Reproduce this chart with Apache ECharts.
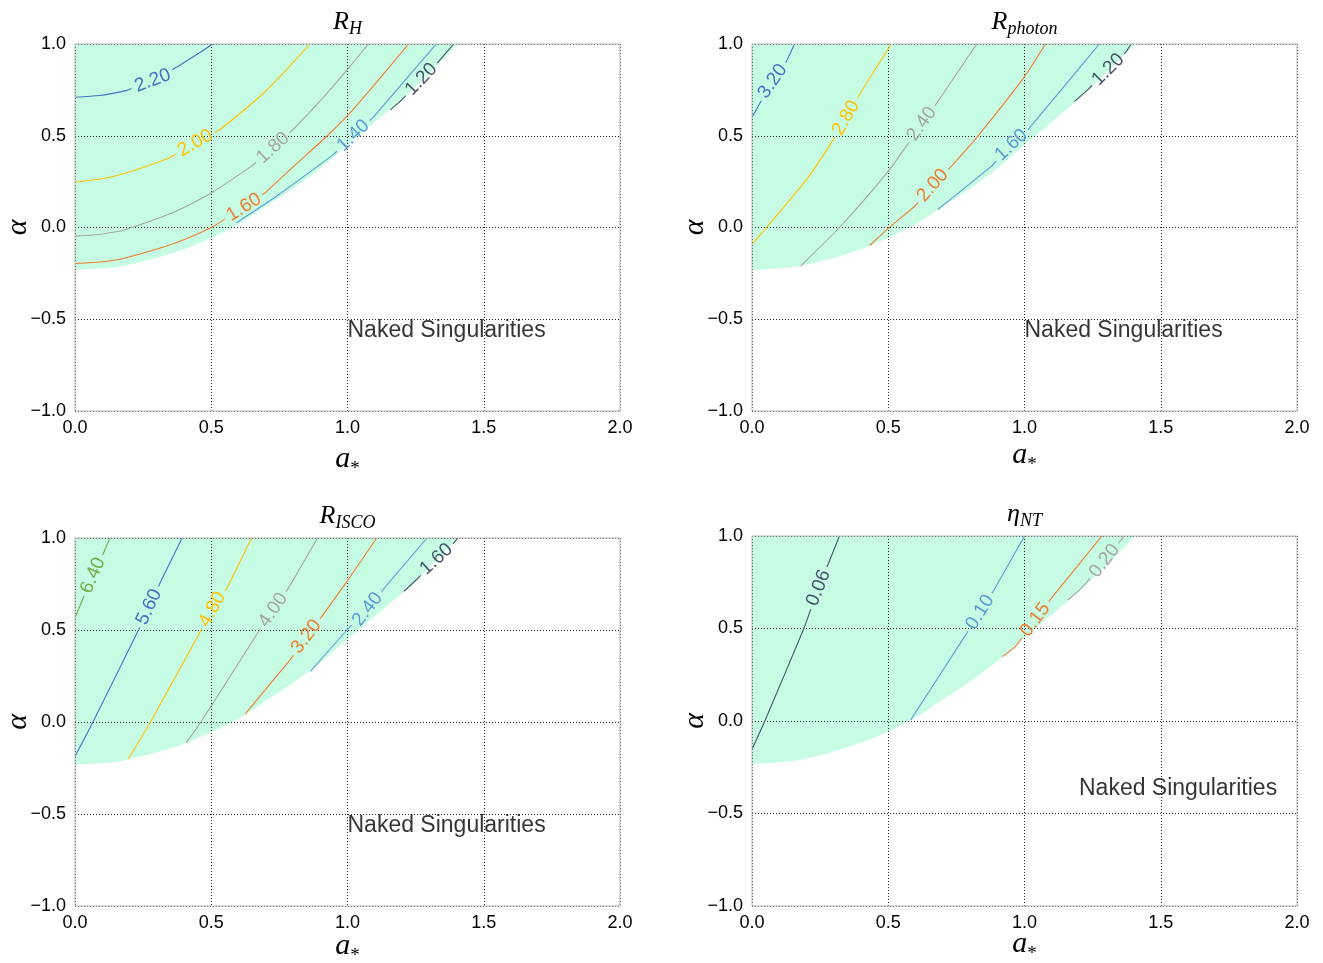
<!DOCTYPE html>
<html>
<head>
<meta charset="utf-8">
<script src="https://cdn.jsdelivr.net/npm/echarts@6/dist/echarts.min.js"></script>
<style>html,body{margin:0;padding:0;background:#fff}#c{width:1323px;height:963px}</style>
</head>
<body>
<div id="c"></div>
<script>
// ---------------- DATA ----------------
const X_TICK_LABELS = ['0.0', '0.5', '1.0', '1.5', '2.0'];
const Y_TICK_LABELS = ['\u22121.0', '\u22120.5', '0.0', '0.5', '1.0'];

const PANEL_TITLES = [['R', 'H'], ['R', 'photon'], ['R', 'ISCO'], ['\u03b7', 'NT']];
const X_NAME = ['a', '*'];
const Y_NAME = '\u03b1';
const REGION_TEXT = 'Naked Singularities';
const REGION_TEXT_AT = [[1.0, -0.6], [1.0, -0.6], [1.0, -0.6], [1.2, -0.4]];

// boundary of the black-hole region (a*, alpha)
const BOUNDARY_A =     [0, 0.1, 0.178, 0.3, 0.408, 0.5, 0.6, 0.682, 0.8, 0.9, 1.0, 1.1, 1.2, 1.3, 1.405];
const BOUNDARY_ALPHA = [-0.232, -0.224, -0.21, -0.165, -0.114, -0.056, 0.018, 0.098, 0.213, 0.323, 0.45, 0.575, 0.70, 0.84, 1.0];

// R_H contours
const RH_LEVELS = ['2.20', '2.00', '1.80', '1.60', '1.40', '1.20'];
const RH_LINES = [
  [[0, 0.71], [0.089, 0.719], [0.187, 0.746], [0.285, 0.80], [0.377, 0.877], [0.444, 0.94], [0.506, 1.0]],
  [[0, 0.248], [0.1, 0.266], [0.187, 0.297], [0.346, 0.379], [0.441, 0.46], [0.536, 0.538], [0.678, 0.714], [0.77, 0.85], [0.862, 1.0]],
  [[0, -0.047], [0.1, -0.035], [0.187, -0.011], [0.371, 0.089], [0.5, 0.188], [0.647, 0.333], [0.72, 0.424], [0.80, 0.533], [0.9, 0.69], [1.0, 0.862], [1.077, 1.0]],
  [[0, -0.197], [0.1, -0.187], [0.187, -0.165], [0.371, -0.083], [0.5, 0.0], [0.62, 0.11], [0.702, 0.194], [0.8, 0.33], [0.923, 0.496], [1.0, 0.609], [1.1, 0.78], [1.224, 1.0]],
  [[0.592, 0.025], [0.739, 0.17], [0.948, 0.397], [1.021, 0.50], [1.095, 0.601], [1.21, 0.80], [1.326, 1.0]],
  [[1.157, 0.641], [1.193, 0.687], [1.269, 0.804], [1.334, 0.904], [1.39, 1.0]]
];
const RH_LABEL_AT = [[0.285, 0.80], [0.441, 0.46], [0.723, 0.44], [0.62, 0.11], [1.021, 0.50], [1.269, 0.81]];

// R_photon contours
const RPH_LEVELS = ['3.20', '2.80', '2.40', '2.00', '1.60', '1.20'];
const RPH_LINES = [
  [[0, 0.601], [0.022, 0.659], [0.073, 0.79], [0.126, 0.904], [0.156, 1.0]],
  [[0, -0.092], [0.053, 0], [0.2, 0.261], [0.291, 0.46], [0.346, 0.60], [0.401, 0.741], [0.511, 1.0]],
  [[0.178, -0.21], [0.321, 0], [0.5, 0.306], [0.566, 0.442], [0.621, 0.56], [0.682, 0.687], [0.825, 1.0]],
  [[0.432, -0.098], [0.5, -0.005], [0.597, 0.116], [0.664, 0.23], [0.737, 0.342], [0.829, 0.498], [1.0, 0.822], [1.077, 1.0]],
  [[0.682, 0.098], [0.878, 0.333], [0.945, 0.44], [1.018, 0.542], [1.147, 0.772], [1.275, 1.0]],
  [[1.183, 0.687], [1.232, 0.75], [1.306, 0.859], [1.373, 0.958], [1.391, 1.0]]
];
const RPH_LABEL_AT = [[0.073, 0.80], [0.342, 0.60], [0.623, 0.565], [0.66, 0.234], [0.951, 0.451], [1.302, 0.868]];

// R_ISCO contours
const RISCO_LEVELS = ['6.40', '5.60', '4.80', '4.00', '3.20', '2.40', '1.60'];
const RISCO_LINES = [
  [[0, 0.565], [0.025, 0.656], [0.066, 0.797], [0.102, 0.909], [0.128, 1.0]],
  [[0, -0.187], [0.066, 0], [0.233, 0.5], [0.272, 0.625], [0.318, 0.774], [0.393, 1.0]],
  [[0.195, -0.201], [0.277, 0], [0.457, 0.484], [0.507, 0.62], [0.558, 0.728], [0.648, 1.0]],
  [[0.408, -0.114], [0.462, 0], [0.682, 0.511], [0.728, 0.61], [0.782, 0.725], [0.89, 1.0]],
  [[0.624, 0.043], [0.79, 0.339], [0.847, 0.46], [0.906, 0.574], [0.998, 0.764], [1.107, 1.0]],
  [[0.864, 0.275], [0.998, 0.5], [1.072, 0.61], [1.13, 0.719], [1.292, 1.0]],
  [[1.207, 0.71], [1.253, 0.773], [1.323, 0.88], [1.385, 0.964], [1.405, 1.0]]
];
const RISCO_LABEL_AT = [[0.066, 0.797], [0.272, 0.625], [0.507, 0.61], [0.728, 0.607], [0.847, 0.466], [1.076, 0.61], [1.323, 0.89]];

// eta_NT contours
const ETA_LEVELS = ['0.06', '0.10', '0.15', '0.20'];
const ETA_LINES = [
  [[0, -0.153], [0.047, 0], [0.19, 0.499], [0.239, 0.70], [0.283, 0.861], [0.321, 1.0]],
  [[0.582, 0.005], [0.78, 0.456], [0.834, 0.58], [0.888, 0.708], [1.0, 1.0]],
  [[0.919, 0.348], [0.966, 0.402], [1.036, 0.54], [1.098, 0.663], [1.284, 1.0]],
  [[1.16, 0.654], [1.214, 0.726], [1.292, 0.862], [1.354, 0.978], [1.366, 1.0]]
];
const ETA_LABEL_AT = [[0.239, 0.722], [0.834, 0.591], [1.036, 0.551], [1.292, 0.867]];

// ---------------- STYLE ----------------
const C_BLUE = '#4472c4', C_GOLD = '#ffc000', C_GRAY = '#a5a5a5', C_ORANGE = '#ed7d31',
      C_LBLUE = '#5b9bd5', C_SLATE = '#44546a', C_GREEN = '#70ad47';
const PANELS = [
  { lines: RH_LINES, levels: RH_LEVELS, labelAt: RH_LABEL_AT, colors: [C_BLUE, C_GOLD, C_GRAY, C_ORANGE, C_LBLUE, C_SLATE] },
  { lines: RPH_LINES, levels: RPH_LEVELS, labelAt: RPH_LABEL_AT, colors: [C_BLUE, C_GOLD, C_GRAY, C_ORANGE, C_LBLUE, C_SLATE] },
  { lines: RISCO_LINES, levels: RISCO_LEVELS, labelAt: RISCO_LABEL_AT, colors: [C_GREEN, C_BLUE, C_GOLD, C_GRAY, C_ORANGE, C_LBLUE, C_SLATE] },
  { lines: ETA_LINES, levels: ETA_LEVELS, labelAt: ETA_LABEL_AT, colors: [C_SLATE, C_LBLUE, C_ORANGE, C_GRAY] }
];
const GRIDS = [
  { left: 75, top: 44, width: 545, height: 367, xNameGap: 28 },
  { left: 752, top: 44, width: 545, height: 367, xNameGap: 24 },
  { left: 75, top: 538, width: 545, height: 368, xNameGap: 20 },
  { left: 752, top: 536, width: 545, height: 370, xNameGap: 18 }
];
const FILL = '#c7fce4';
const SANS = '"Liberation Sans", Arial, Helvetica, sans-serif';
const SERIF = '"Liberation Serif", "Times New Roman", serif';
const LABEL_FONT_SIZE = 19;
const LABEL_FONT = LABEL_FONT_SIZE + 'px ' + SANS;

const measureCtx = document.createElement('canvas').getContext('2d');
function textWidth(t, font) { measureCtx.font = font; return measureCtx.measureText(t).width; }

function cutPolyline(pts, C, r) {
  const pieces = []; let cur = [];
  for (let k = 0; k < pts.length - 1; k++) {
    const P = pts[k], Q = pts[k + 1];
    const dx = Q[0] - P[0], dy = Q[1] - P[1];
    const fx = P[0] - C[0], fy = P[1] - C[1];
    const a = dx * dx + dy * dy, b = 2 * (fx * dx + fy * dy), c = fx * fx + fy * fy - r * r;
    const disc = b * b - 4 * a * c;
    let lo = 1, hi = 0;
    if (a > 0 && disc > 0) {
      const s = Math.sqrt(disc);
      lo = Math.max(0, (-b - s) / (2 * a)); hi = Math.min(1, (-b + s) / (2 * a));
    }
    const at = t => [P[0] + t * dx, P[1] + t * dy];
    if (lo < hi) {
      if (lo > 0) { if (!cur.length) cur.push(P); cur.push(at(lo)); }
      if (cur.length > 1) pieces.push(cur);
      cur = [];
      if (hi < 1) { cur.push(at(hi)); cur.push(Q); }
    } else {
      if (!cur.length) cur.push(P);
      cur.push(Q);
    }
  }
  if (cur.length > 1) pieces.push(cur);
  return pieces;
}

function contourRenderer(panel) {
  return function (params, api) {
    const i = params.dataIndex;
    const pts = panel.lines[i].map(p => api.coord(p));
    const L = api.coord(panel.labelAt[i]);
    let best = null;
    for (let k = 0; k < pts.length - 1; k++) {
      const P = pts[k], Q = pts[k + 1];
      const dx = Q[0] - P[0], dy = Q[1] - P[1];
      const len2 = dx * dx + dy * dy;
      let t = len2 > 0 ? ((L[0] - P[0]) * dx + (L[1] - P[1]) * dy) / len2 : 0;
      t = Math.max(0, Math.min(1, t));
      const X = [P[0] + t * dx, P[1] + t * dy];
      const d = Math.hypot(X[0] - L[0], X[1] - L[1]);
      if (!best || d < best.d) best = { d, X, dx, dy };
    }
    let ang = Math.atan2(best.dy, best.dx);
    if (ang > Math.PI / 2) ang -= Math.PI;
    if (ang < -Math.PI / 2) ang += Math.PI;
    const C = best.X;
    const r = textWidth(panel.levels[i], LABEL_FONT) / 2 + 4;
    const color = panel.colors[i];
    const children = cutPolyline(pts, C, r).map(p => ({
      type: 'polyline', shape: { points: p, smooth: 0.2 },
      style: { stroke: color, lineWidth: 1.1, fill: null }
    }));
    children.push({
      type: 'text', x: C[0], y: C[1], rotation: -ang,
      style: { text: panel.levels[i], fill: color, font: LABEL_FONT, align: 'center', verticalAlign: 'middle' }
    });
    return { type: 'group', children };
  };
}

const grid = [], xAxis = [], yAxis = [], series = [], graphic = [];
GRIDS.forEach((g, gi) => {
  grid.push({ show: true, borderColor: '#b9b9b9', borderWidth: 1, backgroundColor: 'transparent', z: 6,
    left: g.left, top: g.top, width: g.width, height: g.height });
  xAxis.push({
    gridIndex: gi, type: 'value', min: 0, max: 2, interval: 0.5, z: 3,
    axisLine: { show: false }, axisTick: { show: false },
    splitLine: { show: true, lineStyle: { color: '#222', width: 1, type: [1, 2] } },
    axisLabel: { formatter: v => X_TICK_LABELS[Math.round(v / 0.5)], fontSize: 18, color: '#000', fontFamily: SANS, margin: 8 }
  });
  yAxis.push({
    gridIndex: gi, type: 'value', min: -1, max: 1, interval: 0.5, z: 3,
    axisLine: { show: false }, axisTick: { show: false },
    splitLine: { show: true, lineStyle: { color: '#222', width: 1, type: [1, 2] } },
    axisLabel: { formatter: v => Y_TICK_LABELS[Math.round((v + 1) / 0.5)], fontSize: 18, color: '#000', fontFamily: SANS, margin: 9 }
  });
  // black-hole region fill
  series.push({
    type: 'line', xAxisIndex: gi, yAxisIndex: gi, z: 1, silent: true,
    data: BOUNDARY_A.map((a, k) => [a, BOUNDARY_ALPHA[k]]),
    symbol: 'none', smooth: 0.25,
    lineStyle: { width: 0 },
    areaStyle: { color: FILL, opacity: 1, origin: 'end' }
  });
  const panel = PANELS[gi];
  series.push({
    type: 'custom', xAxisIndex: gi, yAxisIndex: gi, coordinateSystem: 'cartesian2d',
    z: 4, silent: true, clip: true,
    data: panel.labelAt,
    renderItem: contourRenderer(panel)
  });
  series.push({
    type: 'scatter', xAxisIndex: gi, yAxisIndex: gi, z: 5, silent: true,
    symbolSize: 0, data: [REGION_TEXT_AT[gi]],
    label: { show: true, formatter: REGION_TEXT, position: [0, 0], align: 'left', verticalAlign: 'bottom',
      offset: [0, 5], fontSize: 23, color: '#000', fontFamily: SANS }
  });
  const cx = g.left + g.width / 2;
  const t = PANEL_TITLES[gi];
  graphic.push({
    type: 'text', x: cx, y: g.top - 38, z: 10,
    style: {
      text: '{m|' + t[0] + '}{s|' + t[1] + '}', align: 'center', verticalAlign: 'top',
      rich: {
        m: { fontFamily: SERIF, fontStyle: 'italic', fontSize: 26, lineHeight: 32, fill: '#000' },
        s: { fontFamily: SERIF, fontStyle: 'italic', fontSize: 18, lineHeight: 18, verticalAlign: 'bottom', fill: '#000' }
      }
    }
  });
  graphic.push({
    type: 'text', x: cx, y: g.top + g.height + g.xNameGap, z: 10,
    style: {
      text: '{m|' + X_NAME[0] + '}{s|' + X_NAME[1] + '}', align: 'center', verticalAlign: 'top',
      rich: {
        m: { fontFamily: SERIF, fontStyle: 'italic', fontSize: 30, lineHeight: 40, fill: '#000' },
        s: { fontFamily: SERIF, fontSize: 19, lineHeight: 19, verticalAlign: 'bottom', fill: '#000' }
      }
    }
  });
  graphic.push({
    type: 'text', x: g.left - 57, y: g.top + g.height / 2, rotation: Math.PI / 2, z: 10,
    style: { text: Y_NAME, font: 'italic 30px ' + SERIF, fill: '#000', align: 'center', verticalAlign: 'middle' }
  });
});

const chart = echarts.init(document.getElementById('c'), null, { renderer: 'canvas' });
chart.setOption({ animation: false, backgroundColor: '#fff', grid, xAxis, yAxis, series, graphic });
</script>
</body>
</html>
